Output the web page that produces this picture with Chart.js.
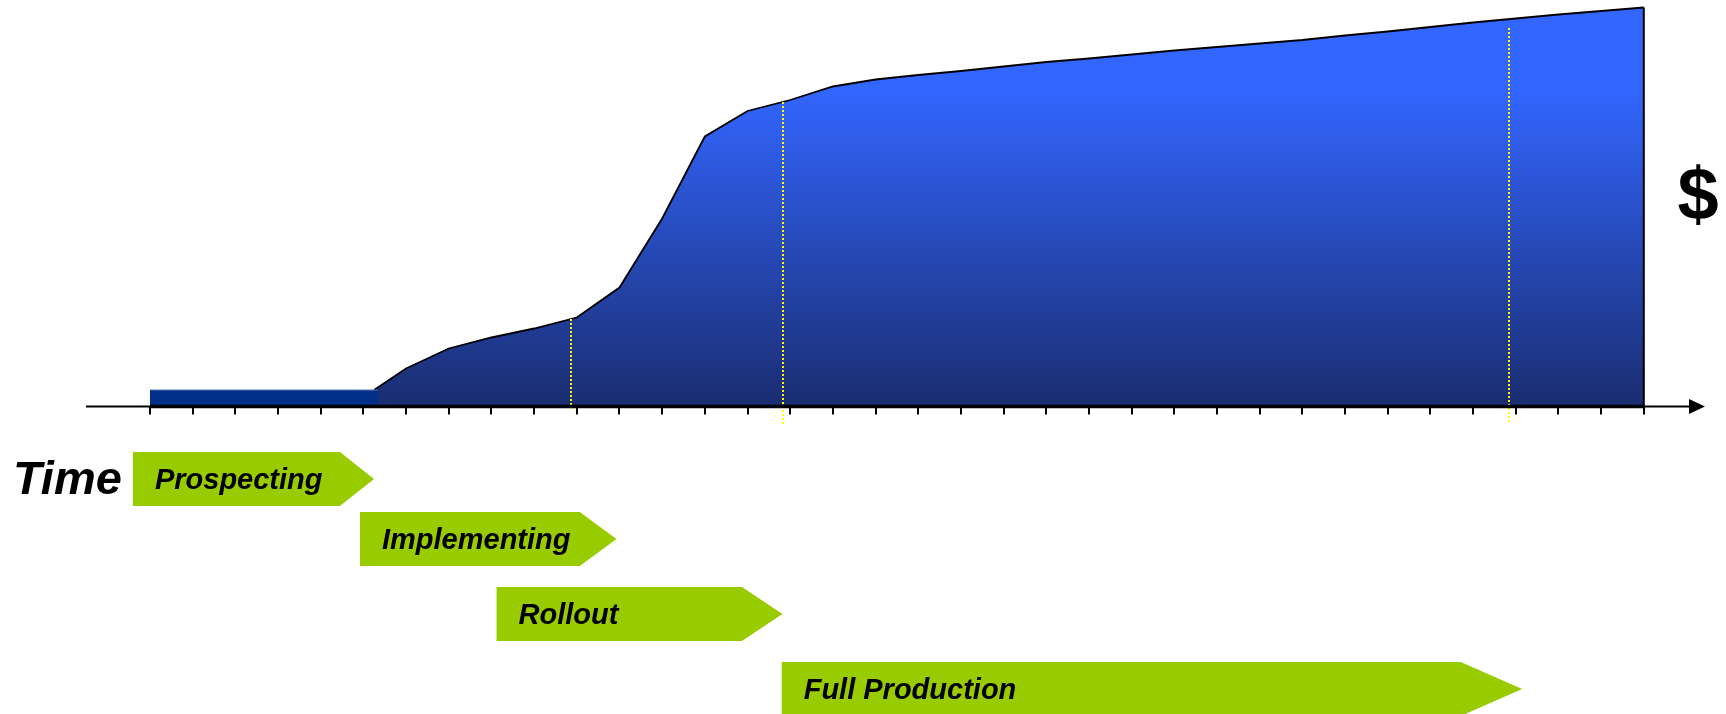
<!DOCTYPE html>
<html>
<head>
<meta charset="utf-8">
<script src="https://cdn.jsdelivr.net/npm/chart.js@4"></script>
<style>
  html, body { margin: 0; padding: 0; background: #fff; }
  #wrap { width: 1726px; height: 714px; position: relative; }
</style>
</head>
<body>
<div id="wrap"><canvas id="growth"></canvas></div>
<script>
// time axis: one tick per period
const periods = Array.from({ length: 36 }, (_, i) => i)

// flat pre-launch level
const baseX = [0, 5.34]
const baseY = [16.5, 16.5]

// revenue curve
const curveX = [5.25, 6, 7, 8, 9, 10, 11, 12, 13, 14, 15, 16, 17, 18, 19, 20,
  21, 22, 23, 24, 25, 26, 27, 28, 29, 30, 31, 32, 33, 34, 35]
const curveY = [16.5, 38, 58, 69, 78, 89, 119, 188, 270, 295.5, 306.5, 320, 327, 331.5, 335.5, 340,
  344.5, 348, 352, 356, 359.5, 363, 366.5, 371, 375, 379.5, 384, 388, 392, 395.5, 399]

// phase chevrons (in periods)
const phaseNames = ['Prospecting', 'Implementing', 'Rollout', 'Full Production']
const phaseStart = [-0.4, 4.92, 8.12, 14.8]
const phaseEnd = [4.45, 10.07, 13.87, 30.71]
const phaseTip = [5.25, 10.93, 14.82, 32.15]

// milestone markers
const milestoneX = [9.86, 14.83, 31.84]
const milestoneTop = [87.5, 304.5, 378.5]
const milestoneBottom = [-4.5, -18.5, -15]

const toPoints = (xs, ys) => xs.map((x, i) => ({ x: x, y: ys[i] }))

const FONT = '"Liberation Sans", Arial, sans-serif'

const overlay = {
  id: 'overlay',
  afterDatasetsDraw(chart) {
    const ctx = chart.ctx
    const x = chart.scales.x
    const y = chart.scales.y
    const y0 = y.getPixelForValue(0)
    const last = curveX.length - 1
    ctx.save()

    // right edge of the area
    ctx.strokeStyle = '#000'
    ctx.lineWidth = 2
    ctx.beginPath()
    ctx.moveTo(x.getPixelForValue(curveX[last]), y.getPixelForValue(curveY[last]))
    ctx.lineTo(x.getPixelForValue(curveX[last]), y0)
    ctx.stroke()

    // milestones
    ctx.strokeStyle = '#ffff00'
    ctx.lineWidth = 2
    ctx.setLineDash([2, 2])
    milestoneX.forEach((m, i) => {
      const px = Math.round(x.getPixelForValue(m))
      ctx.beginPath()
      ctx.moveTo(px, y.getPixelForValue(milestoneTop[i]))
      ctx.lineTo(px, y.getPixelForValue(milestoneBottom[i]))
      ctx.stroke()
    })
    ctx.setLineDash([])

    // time axis with arrow
    ctx.strokeStyle = '#000'
    ctx.fillStyle = '#000'
    ctx.lineWidth = 2
    ctx.beginPath()
    ctx.moveTo(86, y0)
    ctx.lineTo(1692, y0)
    ctx.stroke()
    ctx.lineWidth = 3.5
    ctx.beginPath()
    ctx.moveTo(x.getPixelForValue(periods[0]), y0)
    ctx.lineTo(x.getPixelForValue(periods[periods.length - 1]), y0)
    ctx.stroke()
    ctx.beginPath()
    ctx.moveTo(1705, y0)
    ctx.lineTo(1689, y0 - 7.5)
    ctx.lineTo(1689, y0 + 7.5)
    ctx.closePath()
    ctx.fill()

    ctx.lineWidth = 2
    periods.forEach(p => {
      const px = Math.round(x.getPixelForValue(p))
      ctx.beginPath()
      ctx.moveTo(px, y0)
      ctx.lineTo(px, y0 + 8)
      ctx.stroke()
    })
    ctx.restore()
  },
  afterDraw(chart) {
    const ctx = chart.ctx
    const x = chart.scales.x
    ctx.save()

    // phase chevrons
    const rowTop = [452, 512, 587, 662]
    const rowH = 54
    phaseNames.forEach((name, i) => {
      const l = x.getPixelForValue(phaseStart[i])
      const b = x.getPixelForValue(phaseEnd[i])
      const t = x.getPixelForValue(phaseTip[i])
      const top = rowTop[i]
      ctx.fillStyle = '#99cc00'
      ctx.beginPath()
      ctx.moveTo(l, top)
      ctx.lineTo(b, top)
      ctx.lineTo(t, top + rowH / 2)
      ctx.lineTo(b, top + rowH)
      ctx.lineTo(l, top + rowH)
      ctx.closePath()
      ctx.fill()
      ctx.fillStyle = '#000'
      ctx.font = 'italic bold 29px ' + FONT
      ctx.textBaseline = 'alphabetic'
      ctx.textAlign = 'left'
      ctx.fillText(name, l + 22, top + rowH / 2 + 10)
    })

    ctx.fillStyle = '#000'
    ctx.font = 'italic bold 47px ' + FONT
    ctx.textAlign = 'left'
    ctx.fillText('Time', 13, 494)

    ctx.font = 'bold 74px ' + FONT
    ctx.textAlign = 'center'
    ctx.fillText('$', 1698, 219)
    ctx.restore()
  }
}

const chart = new Chart(document.getElementById('growth'), {
  type: 'line',
  data: {
    datasets: [{
      label: 'Base',
      data: toPoints(baseX, baseY),
      order: 0,
      fill: 'origin',
      backgroundColor: '#003087',
      borderColor: '#5a78b8',
      borderWidth: 1.2,
      pointRadius: 0,
      tension: 0,
      clip: false
    }, {
      label: 'Revenue',
      data: toPoints(curveX, curveY),
      order: 1,
      fill: 'origin',
      backgroundColor: (context) => {
        const area = context.chart.chartArea
        if (!area) return '#2a50d0'
        const g = context.chart.ctx.createLinearGradient(0, area.top, 0, area.bottom)
        g.addColorStop(0, '#3366ff')
        g.addColorStop(0.21, '#3366ff')
        g.addColorStop(1, '#1a2d70')
        return g
      },
      borderColor: '#000',
      borderWidth: 1.8,
      pointRadius: 0,
      tension: 0,
      clip: false
    }]
  },
  options: {
    responsive: true,
    maintainAspectRatio: false,
    animation: false,
    layout: {
      padding: { left: 150, right: 82.2, top: 6.5, bottom: 307.5 }
    },
    plugins: {
      legend: { display: false },
      tooltip: { enabled: false }
    },
    scales: {
      x: { type: 'linear', min: 0, max: 35, display: false },
      y: { min: 0, max: 400, display: false }
    }
  },
  plugins: [overlay]
})
</script>
</body>
</html>
